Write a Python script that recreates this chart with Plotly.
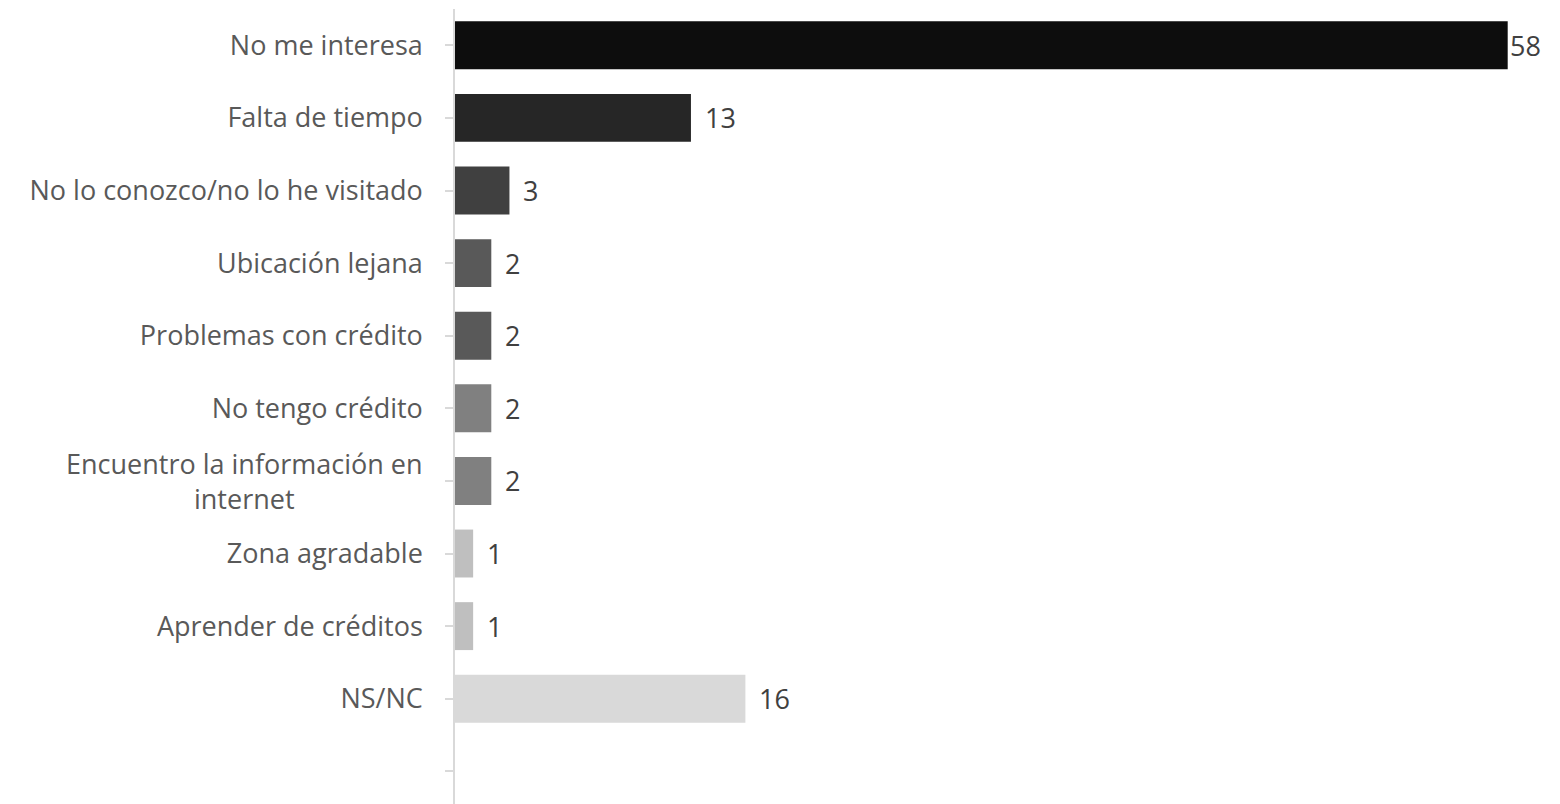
import plotly.graph_objects as go

# motivos (de arriba hacia abajo)
categorias = [
    "No me interesa",
    "Falta de tiempo",
    "No lo conozco/no lo he visitado",
    "Ubicación lejana",
    "Problemas con crédito",
    "No tengo crédito",
    "Encuentro la información en<br>internet",
    "Zona agradable",
    "Aprender de créditos",
    "NS/NC",
]
valores = [58, 13, 3, 2, 2, 2, 2, 1, 1, 16]
colores = ["#0d0d0d", "#262626", "#404040", "#595959", "#595959",
           "#808080", "#808080", "#bfbfbf", "#bfbfbf", "#d9d9d9"]

# slot vacio al final, como en el original
ejes_y = list(range(len(categorias) + 1))
etiquetas = [c if "<br>" not in c else "" for c in categorias] + [""]

fuente = "Open Sans"
tam = 27

fig = go.Figure()
fig.add_trace(go.Bar(
    x=valores,
    y=ejes_y[:len(valores)],
    orientation="h",
    marker=dict(color=colores, line=dict(width=0)),
    width=0.66,
    hoverinfo="skip",
))

# valores al final de cada barra
for i, v in enumerate(valores):
    fig.add_annotation(
        x=v, y=i, xref="x", yref="y", text=str(v), showarrow=False,
        xanchor="left", xshift=12 if v < 50 else 0,
        font=dict(family=fuente, size=tam, color="#404040"),
    )

# etiqueta de dos lineas centrada
for i, c in enumerate(categorias):
    if "<br>" in c:
        fig.add_annotation(
            x=0, xref="paper", y=i, yref="y",
            text=c, showarrow=False, xanchor="right", xshift=-30,
            align="center",
            font=dict(family=fuente, size=tam, color="#595959"),
        )

# la pagina tiene 8px de margen en el body
fig.update_layout(
    width=1552, height=796,
    margin=dict(l=447, r=16, t=1, b=0),
    plot_bgcolor="white", paper_bgcolor="white",
    showlegend=False,
)
fig.update_xaxes(range=[0, 60], visible=False, automargin=False)
fig.update_yaxes(
    tickmode="array", tickvals=ejes_y, ticktext=etiquetas,
    range=[10.45, -0.5], automargin=False,
    tickson="boundaries", ticks="outside", ticklen=8,
    tickcolor="#d9d9d9", tickwidth=1.5,
    showline=True, linecolor="#d9d9d9", linewidth=1.5,
    showgrid=False, zeroline=False,
    ticklabelstandoff=17,
    tickfont=dict(family=fuente, size=tam, color="#595959"),
)

fig.write_html("out.html")
